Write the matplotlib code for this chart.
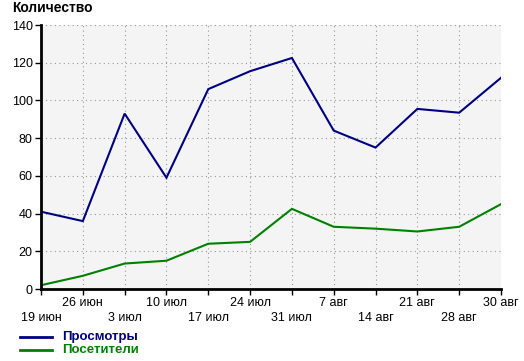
import numpy as np
import matplotlib.pyplot as plt

plt.rcParams['font.family'] = ['Liberation Sans', 'DejaVu Sans']

dates = ['19 июн', '26 июн', '3 июл', '10 июл', '17 июл', '24 июл', '31 июл',
         '7 авг', '14 авг', '21 авг', '28 авг', '30 авг']
views = [41, 36, 93, 59, 106, 115.5, 122.5, 84, 75, 95.5, 93.5, 112]
visitors = [2, 7, 13.5, 15, 24, 25, 42.5, 33, 32, 30.5, 33, 45]
yticks = [0, 20, 40, 60, 80, 100, 120, 140]

fig = plt.figure(figsize=(5.24, 3.61), dpi=100)
ax = fig.add_axes([41/524, 1-289/361, 460/524, 264/361])
ax.set_facecolor('#f4f4f4')

x = np.arange(len(dates))
ax.plot(x, views, color='#000080', lw=1.5, solid_joinstyle='miter')
ax.plot(x, visitors, color='#008000', lw=1.5, solid_joinstyle='miter')

ax.set_xlim(0, len(dates) - 1)
ax.set_ylim(0, 140)
ax.set_yticks(yticks)
ax.set_yticklabels([str(v) for v in yticks], fontsize=9)
ax.set_xticks(x)
labels = [d if i % 2 else '\n' + d for i, d in enumerate(dates)]
ax.set_xticklabels(labels, fontsize=9, linespacing=1.25)

ax.grid(True, color='#999999', linestyle=(0, (1, 3)), lw=0.8)
for s in ['top', 'right']:
    ax.spines[s].set_visible(False)
for s in ['left', 'bottom']:
    ax.spines[s].set_linewidth(2)
    ax.spines[s].set_color('black')
ax.tick_params(direction='out', length=4, width=1, pad=2)

fig.text(12/524, 1-8/361, 'Количество', fontsize=10, fontweight='bold', va='center', ha='left')

# legend
for yy, name, col in [(337, 'Просмотры', '#000080'), (350, 'Посетители', '#008000')]:
    fy = 1 - yy/361
    fig.add_artist(plt.Line2D([20/524, 52/524], [fy, fy], color=col, lw=2))
    fig.text(62/524, fy, name, color=col, fontsize=9.5, fontweight='bold', va='center', ha='left')

fig.savefig('out.png', dpi=100)
